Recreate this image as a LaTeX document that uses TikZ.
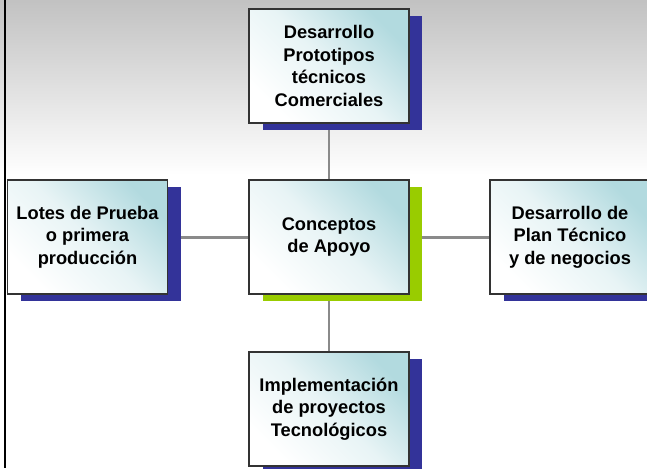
\documentclass[tikz,border=0pt]{standalone}
\usepackage{fontspec}
\setmainfont{Liberation Sans}
\usetikzlibrary{shadows,backgrounds}
\definecolor{navyshade}{HTML}{333399}
\definecolor{limeshade}{HTML}{99CC00}
\definecolor{tealtint}{HTML}{B2DADF}
\definecolor{linkgray}{HTML}{8A8A8A}

\begin{document}
\begin{tikzpicture}[x=0.02cm,y=-0.02cm,
    concept/.style={draw=black!80,line width=0.6pt,
        minimum width=3.2cm,minimum height=2.28cm,align=center,
        top color=tealtint,bottom color=white,shading angle=-45,
        middle color=tealtint!30!white,
        font=\fontsize{10.4}{12.8}\selectfont\bfseries,
        general shadow={fill=#1,shadow xshift=0.27cm,shadow yshift=-0.14cm}},
    concept/.default=navyshade,
    link/.style={linkgray,line width=1.7pt}]
    \useasboundingbox (0,0) rectangle (647,468);

    \node[concept=limeshade] (core) at (329,237) {Conceptos\\de Apoyo};
    \node[concept] (devel) at (329,66) {Desarrollo\\Prototipos\\técnicos\\Comerciales};
    \node[concept] (lotes) at (87.5,237) {Lotes de Prueba\\o primera\\producción};
    \node[concept] (plan) at (570,237) {Desarrollo de\\Plan Técnico\\y de negocios};
    \node[concept] (impl) at (329,409) {Implementación\\de proyectos\\Tecnológicos};

    \begin{scope}[on background layer]
        \shade[top color=black!24,bottom color=white] (0,0) rectangle (647,175);
        \draw[line width=1.7pt] (5,0) -- (5,468);
        \draw[link] (devel) -- (core);
        \draw[link] (core) -- (impl);
        \draw[link] (lotes) -- (core);
        \draw[link] (core) -- (plan);
    \end{scope}
\end{tikzpicture}
\end{document}
